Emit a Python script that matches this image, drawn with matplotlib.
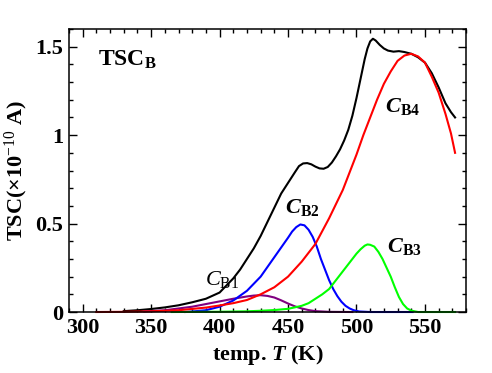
import matplotlib
matplotlib.use('Agg')
import matplotlib.pyplot as plt

# TSC total and fitted components (temperature in K, current in 1e-10 A)
T_total = [330, 340, 350, 360, 370, 380, 390, 400, 410, 415, 420, 425, 430, 435, 440, 445,
           450, 455, 458, 461, 464, 467, 470, 473, 476, 479, 482, 485, 488, 491, 494, 497,
           500, 503, 506, 508, 510, 512, 514, 517, 520, 523, 527, 531, 535, 540, 545, 550,
           555, 560, 565, 569, 572]
I_total = [0.005, 0.01, 0.017, 0.026, 0.038, 0.055, 0.075, 0.11, 0.19, 0.24, 0.30, 0.36,
           0.43, 0.51, 0.59, 0.67, 0.73, 0.79, 0.825, 0.84, 0.842, 0.835, 0.822, 0.812, 0.81,
           0.82, 0.845, 0.88, 0.92, 0.97, 1.03, 1.11, 1.21, 1.32, 1.43, 1.49, 1.53, 1.545,
           1.535, 1.51, 1.49, 1.478, 1.472, 1.475, 1.47, 1.46, 1.44, 1.41, 1.35, 1.27, 1.18,
           1.13, 1.10]

T_b1 = [345, 360, 370, 380, 390, 400, 410, 420, 425, 430, 435, 440, 445, 450, 455, 460, 465,
        470, 480, 497]
I_b1 = [0.003, 0.01, 0.02, 0.03, 0.045, 0.06, 0.075, 0.088, 0.093, 0.095, 0.091, 0.082, 0.066,
        0.048, 0.032, 0.02, 0.011, 0.005, 0.001, 0.0]

T_b2 = [375, 380, 390, 400, 410, 420, 430, 440, 445, 450, 453, 456, 459, 462, 465, 468, 471,
        474, 477, 480, 483, 486, 489, 492, 495, 498, 502, 510, 541]
I_b2 = [0.0, 0.003, 0.01, 0.03, 0.065, 0.12, 0.20, 0.31, 0.365, 0.42, 0.455, 0.48, 0.495,
        0.49, 0.465, 0.425, 0.37, 0.30, 0.24, 0.18, 0.13, 0.09, 0.058, 0.035, 0.02, 0.01,
        0.003, 0.0, 0.0]

T_b3 = [365, 400, 420, 430, 440, 450, 460, 465, 470, 475, 480, 485, 490, 495, 500, 503, 506,
        508, 510, 513, 516, 519, 522, 525, 528, 531, 534, 537, 540, 545, 572]
I_b3 = [0.0, 0.0015, 0.004, 0.007, 0.011, 0.018, 0.035, 0.05, 0.075, 0.10, 0.13, 0.18, 0.23,
        0.28, 0.33, 0.355, 0.375, 0.382, 0.38, 0.37, 0.34, 0.30, 0.25, 0.20, 0.14, 0.085,
        0.045, 0.02, 0.008, 0.0, 0.0]

T_b4 = [310, 330, 350, 370, 390, 400, 410, 420, 430, 440, 450, 460, 470, 480, 490, 500, 505,
        510, 515, 520, 525, 530, 535, 540, 545, 550, 555, 560, 565, 569, 572]
I_b4 = [0.0, 0.001, 0.004, 0.01, 0.025, 0.037, 0.05, 0.068, 0.10, 0.14, 0.20, 0.285, 0.385,
        0.53, 0.69, 0.89, 1.0, 1.10, 1.20, 1.29, 1.36, 1.42, 1.45, 1.46, 1.445, 1.41, 1.33,
        1.24, 1.12, 1.01, 0.90]

y_ticks = [0, 0.5, 1, 1.5]
y_ticklabels = ['0', '0.5', '1', '1.5']
x_ticks = [300, 350, 400, 450, 500, 550]

plt.rcParams['font.family'] = 'Liberation Serif'
plt.rcParams['font.weight'] = 'bold'
plt.rcParams['axes.labelweight'] = 'bold'
plt.rcParams['mathtext.fontset'] = 'custom'
plt.rcParams['mathtext.rm'] = 'Liberation Serif:bold'
plt.rcParams['mathtext.bf'] = 'Liberation Serif:bold'
plt.rcParams['mathtext.it'] = 'Liberation Serif:italic:normal'
plt.rcParams['mathtext.bfit'] = 'Liberation Serif:italic:bold'
plt.rcParams['mathtext.sf'] = 'Liberation Serif:normal'

fig = plt.figure(figsize=(4.92, 3.73), dpi=100)
ax = fig.add_axes([0.1402, 0.1635, 0.807, 0.7587])

lw = 1.5
ax.plot(T_total, I_total, color='black', lw=lw, clip_on=False)
ax.plot(T_b1, I_b1, color='#800080', lw=lw, clip_on=False)
ax.plot(T_b2, I_b2, color='#0000ff', lw=lw, clip_on=False)
ax.plot(T_b3, I_b3, color='#00ff00', lw=lw, clip_on=False)
ax.plot(T_b4, I_b4, color='#ff0000', lw=lw, clip_on=False)

ax.set_xlim(290, 580)
ax.set_ylim(0, 1.6)
ax.set_xticks(x_ticks)
ax.set_xticks(range(290, 581, 10), minor=True)
ax.set_yticks(y_ticks)
ax.set_yticklabels(y_ticklabels)
ax.set_yticks([i / 10 for i in range(0, 17)], minor=True)

ax.tick_params(which='both', direction='in', top=True, right=True, width=1.0,
               labelsize=16, pad=4)
ax.tick_params(which='major', length=6)
ax.tick_params(which='minor', length=3)
for s in ax.spines.values():
    s.set_linewidth(1.1)

ax.set_xlabel(r'temp. $\mathbfit{T}$ (K)', fontsize=16, labelpad=4)
ax.set_ylabel(r'TSC($\times$10$^{\mathsf{-10}}$ A)', fontsize=16, labelpad=4)

ax.text(311, 1.39, r'$\mathbf{TSC}_{\mathbf{B}}$', fontsize=17)
ax.text(389, 0.15, r'$\mathit{C}_{\mathsf{B1}}$', fontsize=16)
ax.text(448, 0.56, r'$\mathbfit{C}_{\mathbf{B2}}$', fontsize=16)
ax.text(522, 0.34, r'$\mathbfit{C}_{\mathbf{B3}}$', fontsize=16)
ax.text(521, 1.13, r'$\mathbfit{C}_{\mathbf{B4}}$', fontsize=16)

fig.savefig('out.png', dpi=100)
